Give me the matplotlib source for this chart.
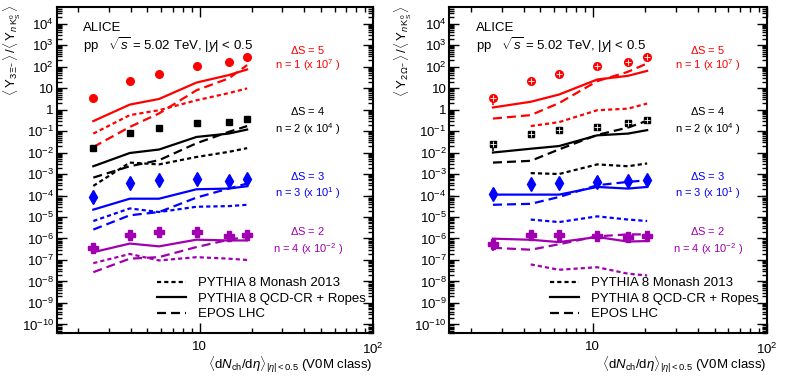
import matplotlib
matplotlib.use("Agg")
import matplotlib.pyplot as plt
from matplotlib.lines import Line2D
from matplotlib.ticker import LogLocator, FixedLocator, NullFormatter, FuncFormatter
import numpy as np

plt.rcParams['font.family'] = ['Liberation Sans', 'DejaVu Sans']
plt.rcParams['mathtext.fontset'] = 'custom'
plt.rcParams['mathtext.rm'] = 'Liberation Sans'
plt.rcParams['mathtext.it'] = 'Liberation Sans:italic'
plt.rcParams['mathtext.bf'] = 'Liberation Sans:bold'
plt.rcParams['lines.scale_dashes'] = False

# multiplicity (x) for each panel
x_xi = [2.44, 3.96, 5.84, 9.6, 14.7, 18.8]
x_om = [2.67, 4.4, 6.4, 10.6, 15.9, 20.5]

# ---- left panel: Xi ratios (scaled) ----
xi_s5 = [3.3, 21, 43, 105, 160, 285]
xi_s4 = [0.017, 0.081, 0.14, 0.24, 0.26, 0.36]
xi_s3 = [8.5e-5, 3.8e-4, 5.1e-4, 6.1e-4, 4.7e-4, 6.1e-4]
xi_s2 = [3.7e-7, 1.5e-6, 2.0e-6, 1.9e-6, 1.26e-6, 1.45e-6]
xi_err = [0.35, 0.2, 0.2, 0.2, 0.25, 0.25]

xi_monash_s5 = [0.076, 0.55, 0.93, 2.7, 5.8, 9.6]
xi_monash_s4 = [2.8e-4, 3.4e-3, 2.8e-3, 6.2e-3, 0.0107, 0.016]
xi_monash_s3 = [6.5e-6, 2.5e-5, 1.7e-5, 3.0e-5, 3.2e-5, 3.7e-5]
xi_monash_s2 = [7.1e-8, 1.9e-7, 9.5e-8, 1.35e-7, 1.15e-7, 1.0e-7]

xi_ropes_s5 = [0.29, 1.7, 3.1, 18, 40, 73]
xi_ropes_s4 = [0.0023, 0.0095, 0.0138, 0.053, 0.076, 0.117]
xi_ropes_s3 = [2.2e-5, 7.1e-5, 7.1e-5, 1.95e-4, 2.1e-4, 2.7e-4]
xi_ropes_s2 = [2.3e-7, 5.8e-7, 4.3e-7, 8.8e-7, 8.1e-7, 8.1e-7]

xi_epos_s5 = [0.018, 0.155, 0.66, 7.9, 28, 117]
xi_epos_s4 = [6.8e-4, 2.3e-3, 4.4e-3, 0.027, 0.091, 0.17]
xi_epos_s3 = [2.6e-6, 1.2e-5, 1.7e-5, 8e-5, 2.1e-4, 3.6e-4]
xi_epos_s2 = [2.7e-8, 1.15e-7, 1.36e-7, 4e-7, 8.7e-7, 1.2e-6]

# ---- right panel: Omega ratios (scaled) ----
om_s5 = [3.3, 21, 45, 105, 160, 280]
om_s4 = [0.024, 0.071, 0.11, 0.155, 0.24, 0.32]
om_s3 = [1.2e-4, 3.3e-4, 3.8e-4, 4.3e-4, 4.7e-4, 5.5e-4]
om_s2 = [5.3e-7, 1.4e-6, 1.4e-6, 1.25e-6, 1.17e-6, 1.35e-6]
om_err = [0.5, 0.2, 0.2, 0.2, 0.2, 0.2]

# Monash for Omega has no point in the lowest class
om_monash_s5 = [0.17, 0.26, 0.93, 1.1, 1.9]
om_monash_s4 = [1.1e-3, 1.0e-3, 2.8e-3, 2.3e-3, 3.1e-3]
om_monash_s3 = [7.6e-6, 5.8e-6, 1.07e-5, 7.6e-6, 6.5e-6]
om_monash_s2 = [6.2e-8, 3.5e-8, 4.6e-8, 2.3e-8, 1.9e-8]

om_ropes_s5 = [1.25, 2.3, 5.0, 25, 37, 63]
om_ropes_s4 = [0.01, 0.015, 0.02, 0.063, 0.076, 0.11]
om_ropes_s3 = [1.1e-4, 1.1e-4, 1.1e-4, 2.5e-4, 2.1e-4, 2.5e-4]
om_ropes_s2 = [9.8e-7, 8.7e-7, 6.8e-7, 1.17e-6, 7.2e-7, 7.6e-7]

om_epos_s5 = [0.38, 0.55, 2.0, 21, 57, 140]
om_epos_s4 = [3.4e-3, 4.1e-3, 0.014, 0.066, 0.145, 0.30]
om_epos_s3 = [3.7e-5, 4.1e-5, 8.5e-5, 3e-4, 4.3e-4, 5.1e-4]
om_epos_s2 = [3.7e-7, 3e-7, 5.4e-7, 1.26e-6, 1.55e-6, 1.55e-6]

colors = ['#ff0000', '#000000', '#0000ff', '#a000b0']
ds_labels = [r'$\Delta$S = 5', r'$\Delta$S = 4', r'$\Delta$S = 3', r'$\Delta$S = 2']
n_labels = [r'n = 1 (x 10$^{7}$ )', r'n = 2 (x 10$^{4}$ )',
            r'n = 3 (x 10$^{1}$ )', r'n = 4 (x 10$^{-2}$ )']

DOT = (0, (3.0, 2.2))
DASH = (0, (6.5, 3.6))
LW = 1.6


def ylab(v, pos):
    e = int(round(np.log10(v)))
    if e == 0:
        return '1'
    if e == 1:
        return '10'
    return r'$10^{%d}$' % e


def xlab(v, pos):
    e = int(round(np.log10(v)))
    if e == 1:
        return '10'
    return r'$10^{%d}$' % e


def setup(ax):
    ax.set_xscale('log')
    ax.set_yscale('log')
    ax.set_xlim(1.5, 100)
    ax.set_ylim(4e-11, 6e4)
    ax.yaxis.set_major_locator(FixedLocator([10.0**k for k in range(-10, 5)]))
    ax.yaxis.set_minor_locator(LogLocator(base=10, subs=np.arange(2, 10), numticks=100))
    ax.yaxis.set_major_formatter(FuncFormatter(ylab))
    ax.yaxis.set_minor_formatter(NullFormatter())
    ax.xaxis.set_major_locator(FixedLocator([10, 100]))
    ax.xaxis.set_minor_locator(LogLocator(base=10, subs=np.arange(2, 10), numticks=100))
    ax.xaxis.set_major_formatter(FuncFormatter(xlab))
    ax.xaxis.set_minor_formatter(NullFormatter())
    ax.tick_params(which='both', direction='in', top=True, right=True, labelsize=9.5, width=1.0)
    ax.tick_params(which='major', length=7)
    ax.tick_params(which='minor', length=3.5)
    ax.tick_params(axis='y', pad=2)
    ax.tick_params(axis='x', pad=6)
    for s in ax.spines.values():
        s.set_linewidth(1.5)


def draw_panel(ax, x, data, err, monash_x, monash, ropes, epos, markers, crossed):
    for i in range(4):
        c = colors[i]
        ax.plot(monash_x, monash[i], color=c, lw=LW, linestyle=DOT)
        ax.plot(x, ropes[i], color=c, lw=LW, linestyle='-')
        ax.plot(x, epos[i], color=c, lw=LW, linestyle=DASH)
        y = np.array(data[i])
        e = y * np.array(err)
        ax.errorbar(x, y, yerr=[e, e * 0.6], fmt='none', ecolor=c, elinewidth=1.2)
        m, ms = markers[i]
        ax.plot(x, y, linestyle='none', marker=m, ms=ms, color=c, mec=c)
        if crossed[i]:
            ax.plot(x, y, linestyle='none', marker='+', ms=ms * 0.75, mew=0.6, color='white')


fig = plt.figure(figsize=(7.85, 3.81), dpi=100)
axL = fig.add_axes([0.0722, 0.126, 0.403, 0.856])
axR = fig.add_axes([0.5724, 0.126, 0.4047, 0.856])
setup(axL)
setup(axR)

mk = [('o', 5.5), ('s', 5), ('d', 7), ('P', 6.5)]

draw_panel(axL, x_xi, [xi_s5, xi_s4, xi_s3, xi_s2], xi_err, x_xi,
           [xi_monash_s5, xi_monash_s4, xi_monash_s3, xi_monash_s2],
           [xi_ropes_s5, xi_ropes_s4, xi_ropes_s3, xi_ropes_s2],
           [xi_epos_s5, xi_epos_s4, xi_epos_s3, xi_epos_s2],
           mk, [False, False, False, False])

draw_panel(axR, x_om, [om_s5, om_s4, om_s3, om_s2], om_err, x_om[1:],
           [om_monash_s5, om_monash_s4, om_monash_s3, om_monash_s2],
           [om_ropes_s5, om_ropes_s4, om_ropes_s3, om_ropes_s2],
           [om_epos_s5, om_epos_s4, om_epos_s3, om_epos_s2],
           mk, [True, True, False, False])

ds_y = [0.868, 0.681, 0.481, 0.313]
n_y = [0.822, 0.626, 0.429, 0.258]

for ax, xc in ((axL, 0.794), (axR, 0.814)):
    ax.text(0.083, 0.935, 'ALICE', transform=ax.transAxes, fontsize=9.5, va='center')
    ax.text(0.083, 0.882, r'pp   $\sqrt{s}$ = 5.02 TeV, $|y|$ < 0.5', transform=ax.transAxes,
            fontsize=9.5, va='center')
    for i in range(4):
        ax.text(xc, ds_y[i], ds_labels[i], color=colors[i], transform=ax.transAxes,
                fontsize=8, ha='center', va='center')
        ax.text(xc, n_y[i], n_labels[i], color=colors[i], transform=ax.transAxes,
                fontsize=8, ha='center', va='center')
    handles = [Line2D([], [], color='k', lw=LW, linestyle=DOT),
               Line2D([], [], color='k', lw=LW, linestyle='-'),
               Line2D([], [], color='k', lw=LW, linestyle=DASH)]
    ax.legend(handles, ['PYTHIA 8 Monash 2013', 'PYTHIA 8 QCD-CR + Ropes', 'EPOS LHC'],
              loc='upper left', bbox_to_anchor=(0.317, 0.172), frameon=False, fontsize=9.5,
              handlelength=2.2, handletextpad=0.9, labelspacing=0.25, borderpad=0,
              borderaxespad=0)
    ax.text(1.0, -0.097, r'$\langle\mathrm{d}N_{\mathrm{ch}}/\mathrm{d}\eta\rangle_{|\eta|<0.5}$ (V0M class)',
            transform=ax.transAxes, ha='right', va='center', fontsize=9.5)

fig.text(12 / 785, 1 - 5 / 381,
         r'$\langle\,\mathrm{Y}_{3\,\Xi^{-}}\,\rangle\,/\langle\,\mathrm{Y}_{n\,\mathrm{K}^{0}_{\mathrm{S}}}\,\rangle$',
         rotation=90, ha='center', va='top', fontsize=9.5)
fig.text(403 / 785, 1 - 5 / 381,
         r'$\langle\,\mathrm{Y}_{2\,\Omega^{-}}\,\rangle\,/\langle\,\mathrm{Y}_{n\,\mathrm{K}^{0}_{\mathrm{S}}}\,\rangle$',
         rotation=90, ha='center', va='top', fontsize=9.5)

fig.savefig('out.png', dpi=100)
